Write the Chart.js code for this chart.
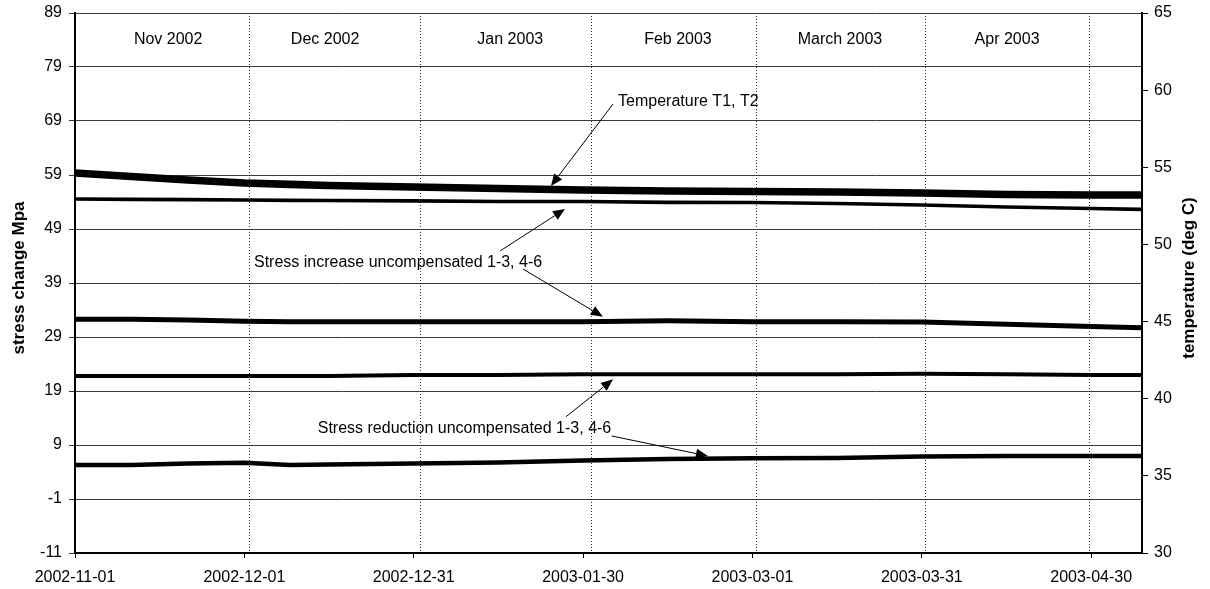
<!DOCTYPE html>
<html><head><meta charset="utf-8">
<script src="https://cdn.jsdelivr.net/npm/chart.js@4.4.1/dist/chart.umd.min.js"></script>
<style>html,body{margin:0;padding:0;background:#fff;} canvas{display:block;}</style>
</head><body>
<canvas id="c" width="1210" height="589"></canvas>
<script>
// ---- data (days since 2002-11-01) ----
const days = [0,10,20,30,38,45,60,75,90,105,120,135,150,165,180,189];
// temperature (deg C, right axis)
const tempT1 = [54.73,54.50,54.28,54.08,53.99,53.92,53.82,53.73,53.63,53.56,53.53,53.50,53.43,53.34,53.30,53.30];
const tempT2 = [54.53,54.30,54.08,53.88,53.79,53.72,53.62,53.53,53.43,53.36,53.33,53.30,53.23,53.14,53.10,53.10];
// stress change (MPa, left axis)
const stressIncA = [54.56,54.50,54.43,54.37,54.31,54.28,54.19,54.09,54.09,53.94,53.91,53.72,53.44,53.07,52.80,52.65];
const stressIncB = [32.28,32.28,32.15,31.90,31.83,31.83,31.83,31.83,31.83,32.00,31.83,31.83,31.80,31.35,30.95,30.72];
const stressRedA = [21.78,21.78,21.78,21.78,21.78,21.80,21.96,21.96,22.10,22.12,22.12,22.12,22.20,22.10,21.96,21.96];
const stressRedB = [5.30,5.30,5.57,5.72,5.30,5.39,5.57,5.76,6.13,6.41,6.54,6.59,6.87,6.96,6.96,6.96];

const xTickDays = [0,30,60,90,120,150,180];
const xTickLabels = ['2002-11-01','2002-12-01','2002-12-31','2003-01-30','2003-03-01','2003-03-31','2003-04-30'];
const monthNames = ['Nov 2002','Dec 2002','Jan 2003','Feb 2003','March 2003','Apr 2003'];
const monthLabelDays = [16.5,44.3,77.1,106.8,135.5,165.1];
const monthBoundaryDays = [30.9,61.1,91.4,120.6,150.6,179.6];

// annotation placements in data units (day, MPa)
const annotations = [
  {text:'Temperature T1, T2', day:96.2, val:72.6, arrows:[[95.3,72.15,84.3,56.96]]},
  {text:'Stress increase uncompensated 1-3, 4-6', day:31.7, val:42.83, arrows:[[75.3,44.93,86.8,52.7],[79.35,41.6,93.5,32.76]]},
  {text:'Stress reduction uncompensated 1-3, 4-6', day:43.0, val:12.0, arrows:[[86.97,14.24,95.3,21.16],[95.07,10.67,112.1,6.96]]}
];

const FONT = '"Liberation Sans", Arial, sans-serif';
const pts = arr => days.map((d,i)=>({x:d, y:arr[i]}));

function ds(label, arr, axis, w){
  return {label, data: pts(arr), yAxisID: axis, borderColor:'#000', backgroundColor:'#000',
    borderWidth:w, pointRadius:0, tension:0, fill:false, borderCapStyle:'butt'};
}

const deco = {
  id:'deco',
  beforeDraw(chart){
    const c = chart.ctx; c.save(); c.fillStyle='#fff'; c.fillRect(0,0,chart.width,chart.height); c.restore();
  },
  beforeDatasetsDraw(chart){
    const c = chart.ctx, a = chart.chartArea, x = chart.scales.x, y = chart.scales.y;
    c.save();
    c.strokeStyle = '#333'; c.lineWidth = 1; c.setLineDash([1,2]);
    monthBoundaryDays.forEach(d=>{
      const px = Math.round(x.getPixelForValue(d))+0.5;
      c.beginPath(); c.moveTo(px,a.top); c.lineTo(px,a.bottom); c.stroke();
    });
    c.setLineDash([]);
    c.fillStyle='#000'; c.font = '16px '+FONT; c.textAlign='center'; c.textBaseline='middle';
    monthNames.forEach((m,i)=>{
      c.fillText(m, x.getPixelForValue(monthLabelDays[i]), y.getPixelForValue(84));
    });
    c.restore();
  },
  afterDatasetsDraw(chart){
    const c = chart.ctx, x = chart.scales.x, y = chart.scales.y;
    c.save();
    c.fillStyle='#000'; c.strokeStyle='#000'; c.lineWidth=1;
    c.font = '16px '+FONT; c.textAlign='left'; c.textBaseline='middle';
    annotations.forEach(an=>{
      c.fillText(an.text, x.getPixelForValue(an.day), y.getPixelForValue(an.val));
      an.arrows.forEach(ar=>{
        const x1=x.getPixelForValue(ar[0]), y1=y.getPixelForValue(ar[1]);
        const x2=x.getPixelForValue(ar[2]), y2=y.getPixelForValue(ar[3]);
        const ang = Math.atan2(y2-y1, x2-x1), L=12, H=5;
        const bx = x2 - L*Math.cos(ang), by = y2 - L*Math.sin(ang);
        c.beginPath(); c.moveTo(x1,y1); c.lineTo(bx,by); c.stroke();
        c.beginPath(); c.moveTo(x2,y2);
        c.lineTo(bx + H*Math.sin(ang), by - H*Math.cos(ang));
        c.lineTo(bx - H*Math.sin(ang), by + H*Math.cos(ang));
        c.closePath(); c.fill();
      });
    });
    c.restore();
  },
  afterDraw(chart){
    const c = chart.ctx, a = chart.chartArea;
    const cy = (a.top + a.bottom)/2 - 5;
    c.save();
    c.fillStyle='#000'; c.font='bold 17px '+FONT; c.textAlign='center'; c.textBaseline='middle';
    c.translate(19, cy); c.rotate(-Math.PI/2); c.fillText('stress change Mpa',0,0);
    c.restore();
    c.save();
    c.fillStyle='#000'; c.font='bold 17px '+FONT; c.textAlign='center'; c.textBaseline='middle';
    c.translate(1189, cy); c.rotate(-Math.PI/2); c.fillText('temperature (deg C)',0,0);
    c.restore();
  }
};

new Chart(document.getElementById('c'), {
  type:'line',
  data:{ datasets:[
    ds('Temperature T1', tempT1, 'y1', 4.5),
    ds('Temperature T2', tempT2, 'y1', 4.5),
    ds('Stress increase uncompensated 1-3', stressIncA, 'y', 3.7),
    ds('Stress increase uncompensated 4-6', stressIncB, 'y', 5),
    ds('Stress reduction uncompensated 1-3', stressRedA, 'y', 4),
    ds('Stress reduction uncompensated 4-6', stressRedB, 'y', 4.5)
  ]},
  options:{
    responsive:false, animation:false, devicePixelRatio:1,
    layout:{padding:{top:13,left:0,right:0,bottom:0}},
    plugins:{legend:{display:false}, tooltip:{enabled:false}},
    scales:{
      x:{ type:'linear', min:0, max:189,
        afterBuildTicks: s => { s.ticks = xTickDays.map(v=>({value:v})); },
        afterFit: s => { s.height = 36; s.paddingLeft = 0; s.paddingRight = 0; },
        ticks:{ callback:(v,i)=>xTickLabels[i], color:'#000', font:{family:FONT,size:16}, maxRotation:0, autoSkip:false, padding:10 },
        grid:{ drawOnChartArea:false, tickLength:5, color:'#000' },
        border:{ color:'#000', width:2 }
      },
      y:{ position:'left', min:-11, max:89,
        ticks:{ stepSize:10, color:'#000', font:{family:FONT,size:16}, padding:7 },
        afterFit: s => { s.width = 75; s.paddingTop = 0; s.paddingBottom = 0; },
        grid:{ color:'#3a3a3a', lineWidth:1, tickLength:6 },
        border:{ color:'#000', width:2 }
      },
      y1:{ position:'right', min:30, max:65,
        ticks:{ stepSize:5, color:'#000', font:{family:FONT,size:16}, padding:6 },
        afterFit: s => { s.width = 68; s.paddingTop = 0; s.paddingBottom = 0; },
        grid:{ drawOnChartArea:false, tickLength:6, color:'#000' },
        border:{ color:'#000', width:2 }
      }
    }
  },
  plugins:[deco]
});
</script>
</body></html>
